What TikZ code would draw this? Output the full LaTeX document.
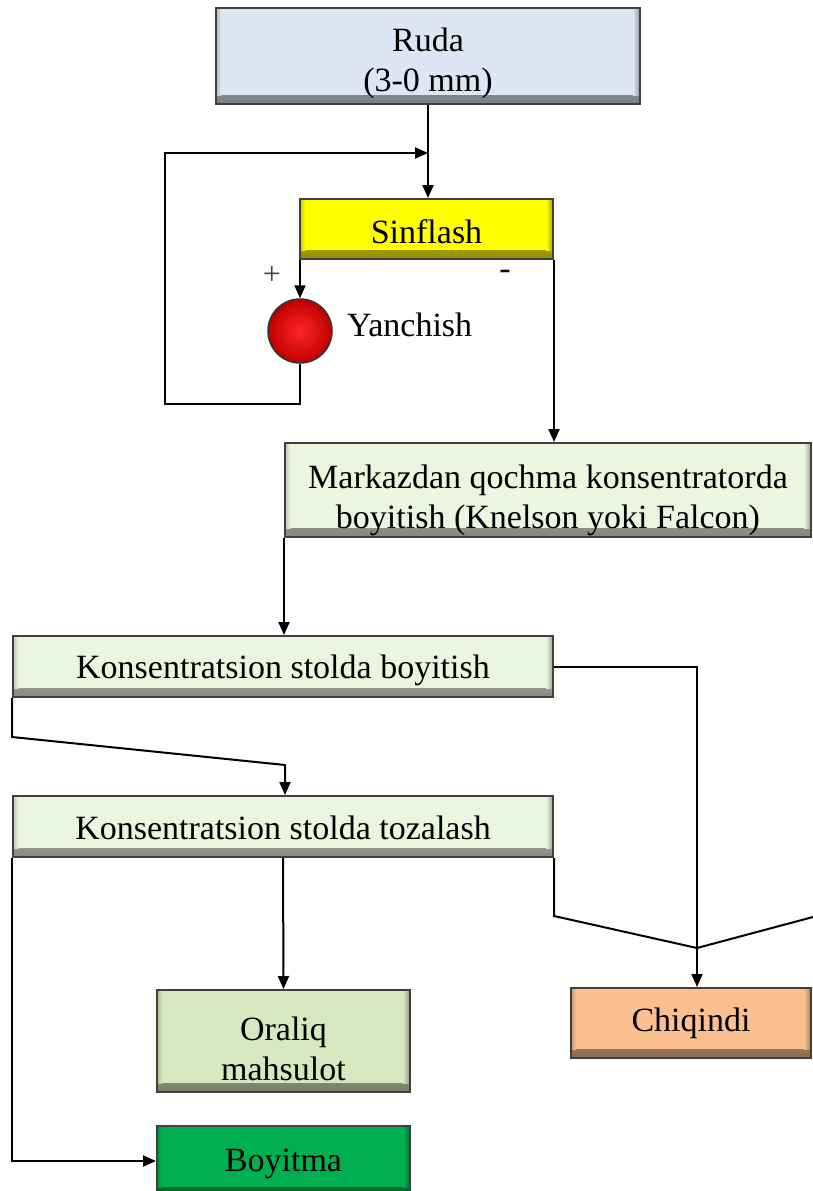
\documentclass[tikz,border=0pt]{standalone}
\usepackage{fontspec}
\setmainfont{Liberation Serif}
\usetikzlibrary{arrows.meta,shadings}
\definecolor{rudaC}{HTML}{DCE6F4}
\definecolor{sinC}{HTML}{FFFF00}
\definecolor{paleC}{HTML}{EBF6E0}
\definecolor{oralC}{HTML}{D5E8C0}
\definecolor{boyC}{HTML}{00B050}
\definecolor{chiqC}{HTML}{FAC090}
\newcommand\dn[1]{\rule{0pt}{#1pt}}
\tikzset{
  box/.style={draw=black!75, line width=2pt, fill=#1, align=center, inner sep=0pt,
    font=\fontsize{34}{40}\selectfont,
    path picture={
      \shade[top color=#1, bottom color=#1!55!black]
        ([yshift=9pt]path picture bounding box.south west) rectangle (path picture bounding box.south east);
      \shade[left color=#1, right color=#1!65!black]
        ([xshift=-7pt]path picture bounding box.north east) rectangle ([yshift=9pt]path picture bounding box.south east);
      \shade[right color=#1, left color=#1!80!black]
        (path picture bounding box.north west) rectangle ([xshift=5pt,yshift=9pt]path picture bounding box.south west);
    }},
  conn/.style={line width=2pt, draw=black},
  arr/.style={conn, -{Triangle[length=13pt,width=11pt]}},
  lbl/.style={font=\fontsize{34}{40}\selectfont, inner sep=0pt}
}
\begin{document}
\begin{tikzpicture}[x=1pt,y=-1pt]
\clip (0,0) rectangle (813,1191);
\fill[white] (0,0) rectangle (813,1191);
% nodes
\node[box=rudaC, minimum width=424pt, minimum height=96pt] (ruda) at (428,56) {\dn{39}Ruda\\(3-0 mm)};
\node[box=sinC, minimum width=253pt, minimum height=60pt] (sin) at (426.5,229) {\dn{29}Sinflash};
\node[circle, draw=black!80, line width=1.5pt, shading=radial, inner color=red!85!white, outer color=red!75!black, minimum size=64pt, inner sep=0pt] (ball) at (300,331) {};
\node[lbl, anchor=west] (yan) at (347,325) {Yanchish};
\node[font=\fontsize{32}{36}\selectfont, text=black!75, inner sep=0pt] (plus) at (272,275) {+};
\node[lbl] (minus) at (505,275) {-};
\node[box=paleC, minimum width=526pt, minimum height=94pt] (mark) at (548,490) {\dn{45}Markazdan qochma konsentratorda\\boyitish (Knelson yoki Falcon)};
\node[box=paleC, minimum width=540pt, minimum height=61pt] (kb) at (283,666.5) {\dn{31}Konsentratsion stolda boyitish};
\node[box=paleC, minimum width=540pt, minimum height=61pt] (kt) at (283,826.5) {\dn{27}Konsentratsion stolda tozalash};
\node[box=oralC, minimum width=253pt, minimum height=102pt] (oral) at (283.5,1041) {\dn{39}Oraliq\\mahsulot};
\node[box=boyC, minimum width=253pt, minimum height=70pt] (boy) at (283.5,1161) {\dn{29}Boyitma};
\node[box=chiqC, minimum width=240pt, minimum height=70pt] (chiq) at (691,1023) {Chiqindi};
% helper coordinates
\coordinate (fbL) at (165,404);
\coordinate (fbT) at (428,153);
\coordinate (jn) at (697,948);
\coordinate (d1) at (13,737);
\coordinate (d2) at (285,765);
\coordinate (d3) at (553,916);
\coordinate (rin) at (813,917);
% connectors
\draw[arr] (ruda.south) -- (ruda.south |- sin.north);
\draw[arr] (ball.south) |- (fbL) |- (fbT);
\draw[arr] (ball.north |- sin.south) -- (ball.north);
\draw[arr] (sin.south east) -- (sin.south east |- mark.north);
\draw[arr] (mark.south west) -- (mark.south west |- kb.north);
\draw[conn] (kb.east) -| (jn);
\draw[arr] (jn) -- (jn |- chiq.north);
\draw[arr] (kb.south west) -- (kb.south west |- d1) -- (d2) -- (d2 |- kt.north);
\draw[conn] (kt.south east) -- (kt.south east |- d3) -- (jn);
\draw[conn] (rin) -- (jn);
\draw[arr] (kt.south) -- (oral.north);
\draw[arr] (kt.south west) |- (boy.west);
\end{tikzpicture}
\end{document}
